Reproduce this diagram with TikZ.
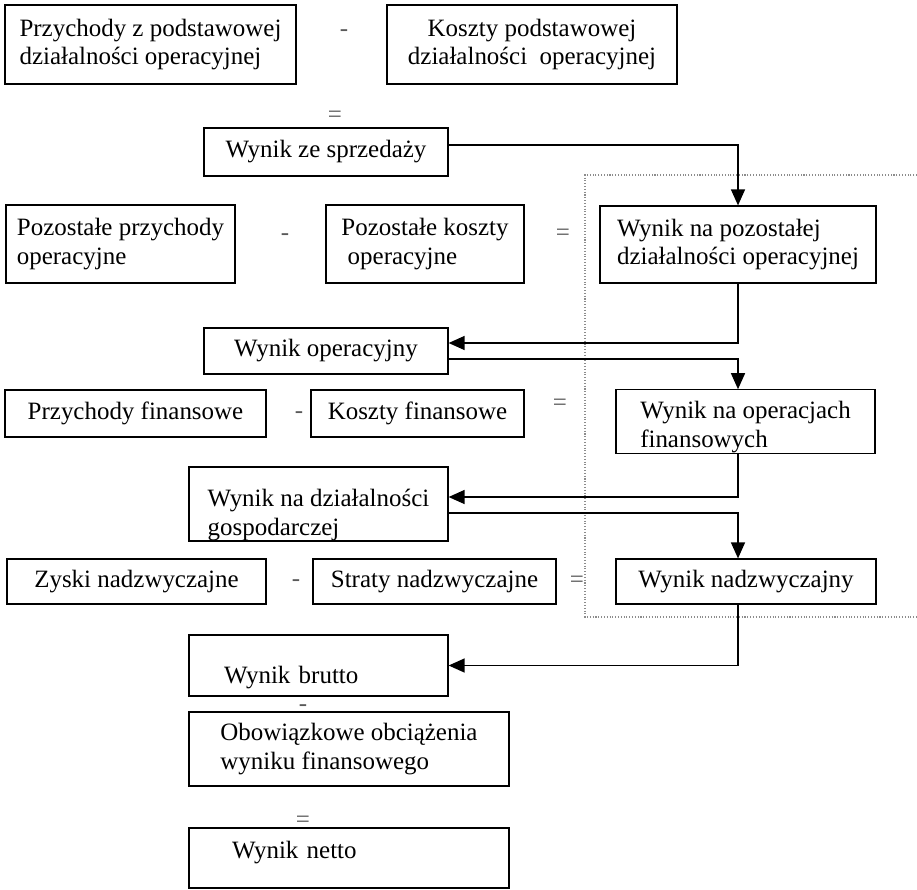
\documentclass[tikz,border=0pt]{standalone}
\usepackage{fontspec}
\setmainfont{Liberation Serif}
\usetikzlibrary{arrows.meta, positioning}

\begin{document}
\begin{tikzpicture}[
        font=\fontsize{14.2}{16.4}\selectfont,
        box/.style={draw, line width=0.7pt, align=left, inner sep=0pt},
        arrow/.style={-{Triangle[length=0.32cm, width=0.28cm]}, line width=0.8pt},
        op/.style={text=black!65, inner sep=1pt}
    ]
        \useasboundingbox (0, 0) rectangle (18.34, -17.78);

        % Frame on the right
        \draw[densely dotted, black!45, line width=0.6pt] (18.34, -3.50) -- (11.70, -3.50) -- (11.70, -12.34) -- (18.34, -12.34);

        % Core activity
        \node[box, minimum width=5.82cm, minimum height=1.58cm] (przpod) at (3.01, -0.89) {Przychody z podstawowej\\działalności operacyjnej};
        \node[op] (m1) at (6.88, -0.66) {-};
        \node[box, align=center, minimum width=5.80cm, minimum height=1.58cm] (kospod) at (10.64, -0.89) {Koszty podstawowej\\działalności\ \ operacyjnej};
        \node[op] (e1) at (6.70, -2.34) {=};
        \node[box, minimum width=4.88cm, minimum height=0.96cm] (sprzed) at (6.52, -3.04) {Wynik ze sprzedaży};

        % Other operating activity
        \node[box, minimum width=4.58cm, minimum height=1.56cm] (pozprz) at (2.41, -4.88) {Pozostałe przychody\\operacyjne};
        \node[op] (m2) at (5.70, -4.74) {-};
        \node[box, minimum width=3.96cm, minimum height=1.56cm] (pozkos) at (8.50, -4.88) {Pozostałe koszty\\\ operacyjne};
        \node[op] (e2) at (11.26, -4.70) {=};
        \node[box, minimum width=5.52cm, minimum height=1.54cm] (wynpoz) at (14.76, -4.89) {Wynik na pozostałej\\działalności operacyjnej};

        \node[box, minimum width=4.88cm, minimum height=0.92cm] (wynoper) at (6.52, -7.02) {Wynik operacyjny};

        % Financial operations
        \node[box, minimum width=5.22cm, minimum height=0.94cm] (przfin) at (2.71, -8.27) {Przychody finansowe};
        \node[op] (m3) at (5.98, -8.30) {-};
        \node[box, minimum width=4.26cm, minimum height=0.94cm] (kosfin) at (8.35, -8.27) {Koszty finansowe};
        \node[op] (e3) at (11.20, -8.10) {=};
        \node[box, minimum width=5.18cm, minimum height=1.22cm, text height=1.16cm] (wynfin) at (14.91, -8.43) {Wynik na operacjach\\finansowych};

        \node[box, minimum width=5.18cm, minimum height=1.48cm, text height=1.35cm, text depth=0.1cm] (wyngosp) at (6.37, -10.08) {Wynik na działalności\\gospodarczej};

        % Extraordinary items
        \node[box, minimum width=5.18cm, minimum height=0.90cm] (zyski) at (2.73, -11.63) {Zyski nadzwyczajne};
        \node[op] (m4) at (5.92, -11.66) {-};
        \node[box, minimum width=4.86cm, minimum height=0.90cm] (straty) at (8.69, -11.63) {Straty nadzwyczajne};
        \node[op] (e4) at (11.54, -11.64) {=};
        \node[box, minimum width=5.20cm, minimum height=0.90cm] (wynnadz) at (14.92, -11.63) {Wynik nadzwyczajny};

        % Gross and net result
        \node[box, minimum width=5.18cm, minimum height=1.22cm, text width=3.78cm, inner xsep=0.7cm, text height=0.7cm, text depth=0cm] (brutto) at (6.37, -13.31) {Wynik brutto};
        \node[op] (m5) at (6.06, -14.16) {-};
        \node[box, minimum width=6.40cm, minimum height=1.48cm] (obow) at (6.98, -14.98) {Obowiązkowe obciążenia\\wyniku finansowego};
        \node[op] (e5) at (6.06, -16.44) {=};
        \node[box, minimum width=6.40cm, minimum height=1.20cm, text width=4.68cm, inner xsep=0.86cm, text height=0.25cm, text depth=0.25cm] (netto) at (6.98, -17.16) {Wynik netto};

        % Arrows
        \draw[arrow] ([yshift=0.14cm]sprzed.east) -| (wynpoz.north);
        \draw[arrow] (wynpoz.south) |- ([yshift=0.16cm]wynoper.east);
        \draw[arrow] ([yshift=-0.16cm]wynoper.east) -| ([xshift=-0.15cm]wynfin.north);
        \draw[arrow] ([xshift=-0.15cm]wynfin.south) |- ([yshift=0.14cm]wyngosp.east);
        \draw[arrow] ([yshift=-0.18cm]wyngosp.east) -| ([xshift=-0.16cm]wynnadz.north);
        \draw[arrow] ([xshift=-0.16cm]wynnadz.south) |- (brutto.east);
    \end{tikzpicture}
\end{document}
